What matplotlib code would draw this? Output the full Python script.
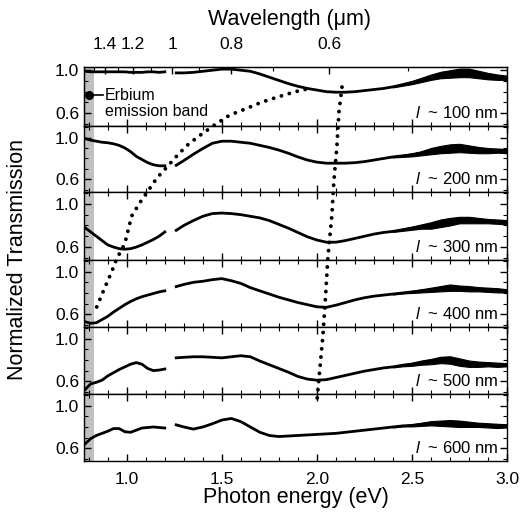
import matplotlib.pyplot as plt
import numpy as np
from matplotlib.ticker import MultipleLocator, FixedLocator

plt.rcParams['font.family'] = ['Liberation Sans', 'DejaVu Sans']
plt.rcParams['mathtext.fontset'] = 'custom'
plt.rcParams['mathtext.it'] = 'Liberation Sans:italic'
plt.rcParams['mathtext.rm'] = 'Liberation Sans'

# photon energy grids (eV): near-IR detector part and visible part
e_lo = np.array([0.78, 0.81, 0.84, 0.87, 0.90, 0.93, 0.96, 0.99, 1.02, 1.05,
                 1.08, 1.11, 1.14, 1.17, 1.20])
e_hi = np.array([1.26, 1.30, 1.35, 1.40, 1.45, 1.50, 1.55, 1.60, 1.65, 1.70,
                 1.75, 1.80, 1.85, 1.90, 1.95, 2.00, 2.05, 2.10, 2.15, 2.20,
                 2.25, 2.30, 2.35, 2.40, 2.45, 2.50, 2.55, 2.60, 2.65, 2.70,
                 2.75, 2.80, 2.85, 2.90, 2.95, 3.00])

thickness = ['100', '200', '300', '400', '500', '600']

t100_lo = [0.99, 0.985, 0.985, 0.985, 0.985, 0.985, 0.985, 0.985, 0.98, 0.98,
           0.98, 0.985, 0.985, 0.98, 0.985]
t200_lo = [0.99, 0.975, 0.965, 0.955, 0.95, 0.94, 0.925, 0.90, 0.865, 0.82,
           0.79, 0.76, 0.74, 0.73, 0.73]
t300_lo = [0.78, 0.74, 0.70, 0.66, 0.62, 0.60, 0.585, 0.58, 0.585, 0.60,
           0.62, 0.645, 0.67, 0.70, 0.74]
t400_lo = [0.53, 0.515, 0.52, 0.55, 0.58, 0.62, 0.655, 0.69, 0.72, 0.745,
           0.765, 0.78, 0.795, 0.81, 0.82]
t500_lo = [0.52, 0.575, 0.59, 0.61, 0.65, 0.68, 0.71, 0.735, 0.76, 0.775,
           0.76, 0.72, 0.70, 0.705, 0.715]
t600_lo = [0.64, 0.69, 0.72, 0.74, 0.76, 0.785, 0.785, 0.755, 0.75, 0.77,
           0.79, 0.795, 0.80, 0.795, 0.79]

t100_hi = [0.975, 0.975, 0.98, 0.99, 1.0, 1.01, 1.01, 1.0, 0.99, 0.965,
           0.935, 0.905, 0.875, 0.85, 0.83, 0.815, 0.80, 0.795, 0.795, 0.80,
           0.81, 0.82, 0.83, 0.845, 0.865, 0.885, 0.91, 0.935, 0.955, 0.965,
           0.975, 0.975, 0.96, 0.945, 0.935, 0.93]
t200_hi = [0.735, 0.78, 0.84, 0.895, 0.945, 0.965, 0.965, 0.955, 0.945, 0.925,
           0.905, 0.88, 0.85, 0.815, 0.785, 0.765, 0.755, 0.755, 0.755, 0.76,
           0.77, 0.785, 0.80, 0.815, 0.825, 0.835, 0.85, 0.87, 0.885, 0.895,
           0.90, 0.89, 0.88, 0.875, 0.875, 0.87]
t300_hi = [0.755, 0.80, 0.845, 0.885, 0.91, 0.915, 0.91, 0.90, 0.885, 0.87,
           0.845, 0.81, 0.775, 0.735, 0.695, 0.665, 0.645, 0.645, 0.66, 0.68,
           0.70, 0.72, 0.735, 0.745, 0.76, 0.775, 0.79, 0.80, 0.82, 0.835,
           0.85, 0.85, 0.845, 0.84, 0.835, 0.83]
t400_hi = [0.86, 0.88, 0.90, 0.91, 0.925, 0.935, 0.915, 0.89, 0.85, 0.82,
           0.79, 0.76, 0.735, 0.71, 0.69, 0.67, 0.665, 0.685, 0.71, 0.735,
           0.755, 0.77, 0.78, 0.79, 0.80, 0.81, 0.82, 0.83, 0.84, 0.85,
           0.845, 0.84, 0.835, 0.83, 0.825, 0.82]
t500_hi = [0.82, 0.825, 0.83, 0.83, 0.825, 0.82, 0.83, 0.84, 0.83, 0.79,
           0.755, 0.72, 0.685, 0.645, 0.62, 0.61, 0.615, 0.635, 0.655, 0.675,
           0.695, 0.71, 0.725, 0.735, 0.75, 0.76, 0.775, 0.785, 0.80, 0.80,
           0.78, 0.765, 0.76, 0.76, 0.755, 0.755]
t600_hi = [0.82, 0.80, 0.78, 0.80, 0.83, 0.865, 0.88, 0.85, 0.80, 0.75,
           0.72, 0.71, 0.715, 0.72, 0.725, 0.73, 0.735, 0.74, 0.75, 0.76,
           0.77, 0.78, 0.79, 0.80, 0.81, 0.815, 0.825, 0.835, 0.835, 0.835,
           0.83, 0.825, 0.82, 0.815, 0.81, 0.81]

# half width of the noisy band for e_hi >= 2.40
s100 = [0.005, 0.01, 0.015, 0.02, 0.025, 0.03, 0.035, 0.04, 0.04, 0.035, 0.03, 0.025, 0.02]
s200 = [0.005, 0.01, 0.015, 0.02, 0.03, 0.035, 0.04, 0.04, 0.035, 0.03, 0.025, 0.02, 0.02]
s300 = [0.005, 0.01, 0.015, 0.02, 0.03, 0.035, 0.035, 0.03, 0.03, 0.025, 0.02, 0.02, 0.02]
s400 = [0.005, 0.005, 0.01, 0.015, 0.02, 0.025, 0.03, 0.025, 0.025, 0.02, 0.02, 0.02, 0.015]
s500 = [0.005, 0.01, 0.015, 0.02, 0.025, 0.03, 0.035, 0.035, 0.03, 0.025, 0.02, 0.02, 0.015]
s600 = [0.005, 0.005, 0.01, 0.015, 0.02, 0.025, 0.03, 0.03, 0.025, 0.02, 0.02, 0.02, 0.015]

lows = [t100_lo, t200_lo, t300_lo, t400_lo, t500_lo, t600_lo]
highs = [t100_hi, t200_hi, t300_hi, t400_hi, t500_hi, t600_hi]
spreads = [s100, s200, s300, s400, s500, s600]

# dotted guides of the transmission minima (energy, fraction of panel stack height)
dipA_e = [0.842, 0.879, 0.916, 0.947, 0.989, 1.026, 1.068, 1.111, 1.158, 1.211,
          1.268, 1.326, 1.395, 1.468, 1.542, 1.621, 1.711, 1.795, 1.884, 1.974]
dipA_y = [0.391, 0.434, 0.475, 0.513, 0.551, 0.622, 0.655, 0.685, 0.718, 0.746,
          0.777, 0.805, 0.830, 0.855, 0.878, 0.893, 0.911, 0.924, 0.937, 0.947]
dipB_e = [2.132, 2.116, 2.105, 2.089, 2.079, 2.058, 2.047, 2.032, 2.016, 2.000]
dipB_y = [0.949, 0.886, 0.797, 0.708, 0.624, 0.518, 0.429, 0.320, 0.236, 0.150]

wl_major = [1.4, 1.2, 1.0, 0.8, 0.6]
wl_labels = ['1.4', '1.2', '1', '0.8', '0.6']
wl_minor = [1.5, 1.3, 1.1, 0.9, 0.7, 0.5]
hc = 1.2398  # eV um

erbium_edge = 0.827
xmin, xmax = 0.775, 3.0

fig = plt.figure(figsize=(5.22, 5.21), dpi=100)
left, right = 84 / 522, 507 / 522
bottom, top = (521 - 461) / 521, (521 - 67) / 521
gs = fig.add_gridspec(6, 1, height_ratios=[59, 66, 68, 67, 67, 67], hspace=0,
                      left=left, right=right, bottom=bottom, top=top)

axes = []
for i in range(6):
    ax = fig.add_subplot(gs[i])
    axes.append(ax)
    ax.axvspan(xmin, erbium_edge, color='#c0c0c0', lw=0, zorder=0)
    ax.plot(e_lo, lows[i], color='k', lw=2.0, zorder=3)
    ax.plot(e_hi, highs[i], color='k', lw=2.0, zorder=3)
    m = e_hi >= 2.395
    hi = np.array(highs[i])[m]
    s = np.array(spreads[i])
    ax.fill_between(e_hi[m], hi - s, hi + s, color='k', lw=0.8, zorder=2)
    ax.set_xlim(xmin, xmax)
    ax.set_ylim(0.48, 1.03 if i == 0 else 1.11)
    ax.set_yticks([0.6, 1.0])
    ax.set_yticklabels(['0.6', '1.0'])
    ax.yaxis.set_minor_locator(MultipleLocator(0.1))
    ax.xaxis.set_major_locator(MultipleLocator(0.5))
    ax.xaxis.set_minor_locator(MultipleLocator(0.1))
    ax.tick_params(which='both', direction='in', left=True, right=True,
                   top=(i > 0), bottom=True, labelsize=12.5)
    ax.tick_params(which='major', length=5, width=1)
    ax.tick_params(which='minor', length=3, width=0.8)
    ax.tick_params(axis='x', pad=8)
    if i < 5:
        ax.tick_params(labelbottom=False)
    else:
        ax.set_xticklabels([], minor=True)
        ax.xaxis.set_major_formatter(plt.FormatStrFormatter('%.1f'))
    for sp in ax.spines.values():
        sp.set_linewidth(1.0)
    ax.annotate(r'$\mathit{l}$  ~ ' + thickness[i] + ' nm', xy=(1, 0),
                xycoords='axes fraction', xytext=(-6, 9.5),
                textcoords='offset points', ha='right', va='center', fontsize=12)

# wavelength scale on top
ax0 = axes[0]
axt = ax0.twiny()
axt.set_xlim(xmin, xmax)
axt.xaxis.set_major_locator(FixedLocator([hc / w for w in wl_major]))
axt.xaxis.set_minor_locator(FixedLocator([hc / w for w in wl_minor]))
axt.set_xticklabels(wl_labels)
axt.tick_params(which='both', direction='in', labelsize=12.5, pad=11)
axt.tick_params(which='major', length=5, width=1)
axt.tick_params(which='minor', length=3, width=0.8)

# erbium emission band marker
ax0.plot([0.80, 0.875], [0.765, 0.765], color='k', lw=1.2, zorder=4)
ax0.plot([0.80], [0.765], 'o', color='k', ms=5.5, zorder=5)
ax0.text(0.885, 0.69, 'Erbium\nemission band', fontsize=11.5, va='center',
         ha='left', linespacing=1.15)

# overlay for dotted guides through the stack
ov = fig.add_axes([left, bottom, right - left, top - bottom], zorder=10)
ov.patch.set_alpha(0)
ov.set_xlim(xmin, xmax)
ov.set_ylim(0, 1)
ov.axis('off')
for ex, ey in [(dipA_e, dipA_y), (dipB_e, dipB_y)]:
    ov.plot(ex, ey, color='k', lw=2.8, linestyle=(0, (0.01, 2.1)),
            dash_capstyle='round')

fig.text(296 / 522, (521 - 497) / 521, 'Photon energy (eV)', ha='center',
         va='center', fontsize=15.5)
fig.text(290 / 522, (521 - 19) / 521, 'Wavelength (\u03bcm)', ha='center',
         va='center', fontsize=15.5)
fig.text(18 / 522, (521 - 260) / 521, 'Normalized Transmission', ha='center',
         va='center', rotation=90, fontsize=15.5)

plt.savefig('out.png', dpi=100)
